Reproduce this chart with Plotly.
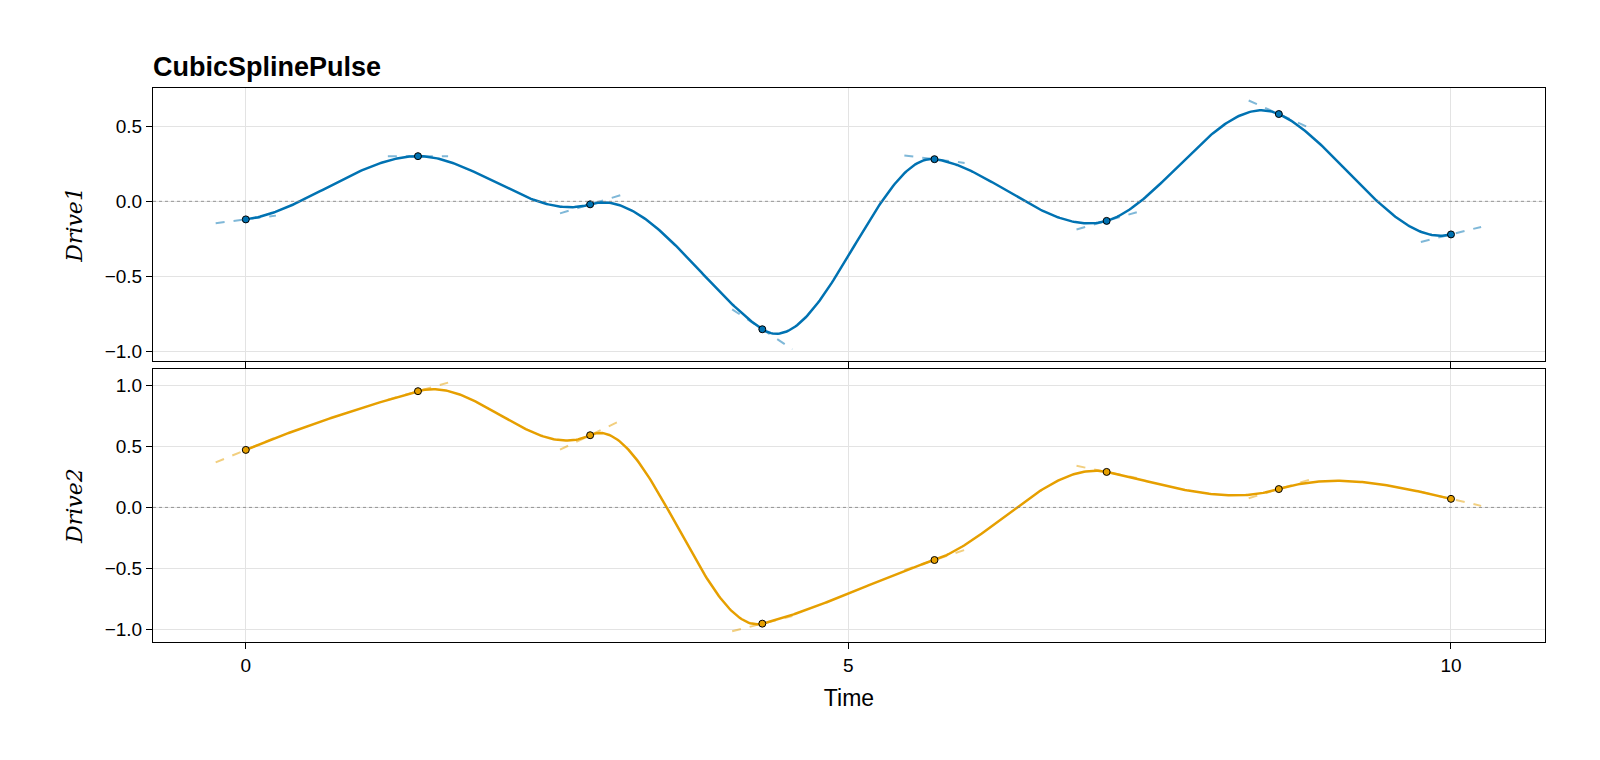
import numpy as np
import plotly.graph_objects as go
from plotly.subplots import make_subplots

knots = [0, 10/7, 20/7, 30/7, 40/7, 50/7, 60/7, 10]
drive1_vals = [-0.12, 0.30, -0.02, -0.85, 0.28, -0.13, 0.58, -0.22]
drive1_der = [0.10, 0.0, 0.24, -0.53, -0.10, 0.23, -0.36, 0.20]
drive2_vals = [0.47, 0.95, 0.59, -0.95, -0.43, 0.29, 0.15, 0.07]
drive2_der = [0.41, 0.28, 0.47, 0.25, 0.33, -0.20, 0.30, -0.23]
colors = ["#0072b2", "#e69f00"]
tangent_colors = ["rgba(0,114,178,0.5)", "rgba(230,159,0,0.5)"]

def hermite(t, v, d, n=100):
    xs, ys = [], []
    for i in range(len(t) - 1):
        h = t[i+1] - t[i]
        s = np.linspace(0, 1, n)
        h00 = 2*s**3 - 3*s**2 + 1; h10 = s**3 - 2*s**2 + s
        h01 = -2*s**3 + 3*s**2; h11 = s**3 - s**2
        y = h00*v[i] + h10*h*d[i] + h01*v[i+1] + h11*h*d[i+1]
        xs += list(t[i] + s*h); ys += list(y)
    return xs, ys

fig = make_subplots(rows=2, cols=1, shared_xaxes=True, vertical_spacing=0.015)
for r, (v, d) in enumerate([(drive1_vals, drive1_der), (drive2_vals, drive2_der)], start=1):
    c = colors[r-1]
    tx, ty = [], []
    for t, y, s in zip(knots, v, d):
        tx += [t-0.25, t+0.25, None]; ty += [y-0.25*s, y+0.25*s, None]
    fig.add_trace(go.Scatter(x=tx, y=ty, mode="lines", line=dict(color=tangent_colors[r-1], width=2, dash="dash")), row=r, col=1)
    xs, ys = hermite(knots, v, d)
    fig.add_trace(go.Scatter(x=xs, y=ys, mode="lines", line=dict(color=c, width=2.5)), row=r, col=1)
    fig.add_trace(go.Scatter(x=knots, y=v, mode="markers", marker=dict(color=c, size=7, line=dict(color="black", width=1))), row=r, col=1)
    fig.add_hline(y=0, line=dict(color="gray", width=0.8, dash="dot"), row=r, col=1)

ax = dict(showline=True, linecolor="black", linewidth=1, mirror=True, gridcolor="#e3e3e3", zeroline=False,
          ticks="outside", ticklen=6, tickcolor="black", tickfont=dict(size=19, family="Liberation Sans", color="black"))
fig.update_xaxes(**ax, range=[-0.77, 10.78], tickvals=[0, 5, 10])
fig.update_xaxes(title=dict(text="Time", font=dict(size=23, family="Liberation Sans", color="black")), row=2, col=1)
fig.update_yaxes(**ax)
fig.update_yaxes(range=[-1.06, 0.753], tickvals=[-1, -0.5, 0, 0.5], ticktext=["−1.0", "−0.5", "0.0", "0.5"],
                 title=dict(text="<i>Drive1</i>", font=dict(size=22, family="DejaVu Serif", color="black")), row=1, col=1)
fig.update_yaxes(range=[-1.10, 1.13], tickvals=[-1, -0.5, 0, 0.5, 1], ticktext=["−1.0", "−0.5", "0.0", "0.5", "1.0"],
                 title=dict(text="<i>Drive2</i>", font=dict(size=22, family="DejaVu Serif", color="black")), row=2, col=1)
fig.update_layout(width=1600, height=760, showlegend=False, plot_bgcolor="white", paper_bgcolor="white",
                  margin=dict(l=145, r=63, t=80, b=126),
                  title=dict(text="<b>CubicSplinePulse</b>", x=145/1600, xanchor="left", y=0.935,
                             font=dict(size=27, family="Liberation Sans", color="black")))
fig.write_html("out.html")
